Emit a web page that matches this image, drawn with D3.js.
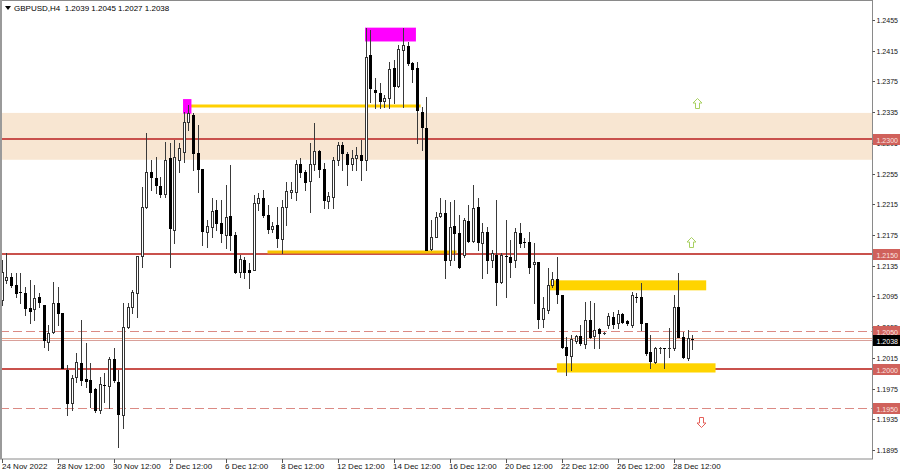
<!DOCTYPE html>
<html><head><meta charset="utf-8">
<script src="https://cdn.jsdelivr.net/npm/d3@7"></script>
<style>
html,body{margin:0;padding:0;background:#fff;}
svg{display:block;font-family:"Liberation Sans",Arial,sans-serif;}
</style></head>
<body><svg id="chart" width="900" height="474"></svg>
<script>
// ---- data (GBPUSD H4) ----
const symbolTitle = "GBPUSD,H4";
const lastQuote = ["1.2039", "1.2045", "1.2027", "1.2038"];
const firstBarTime = "2022-11-24 12:00";
const opens = [
1.2090,1.2116,1.2120,1.2110,1.2101,1.2100,1.2080,1.2079,1.2094,1.2084,
1.2036,1.2049,1.2087,1.2074,1.1999,1.1956,1.1990,1.2008,1.1988,1.1986,
1.1975,1.1947,1.1980,1.1978,1.2014,1.1984,1.1941,1.2055,1.2081,1.2100,
1.2148,1.2212,1.2257,1.2249,1.2239,1.2228,1.2275,1.2182,1.2273,1.2283,
1.2322,1.2331,1.2282,1.2261,1.2179,1.2185,1.2208,1.2191,1.2175,1.2200,
1.2175,1.2127,1.2142,1.2130,1.2130,1.2217,1.2223,1.2201,1.2183,1.2188,
1.2170,1.2212,1.2231,1.2231,1.2268,1.2257,1.2245,1.2268,1.2284,1.2261,
1.2219,1.2225,1.2273,1.2292,1.2281,1.2268,1.2275,1.2279,1.2273,1.2409,
1.2364,1.2360,1.2349,1.2353,1.2392,1.2369,1.2416,1.2421,1.2399,1.2392,
1.2335,1.2314,1.2157,1.2172,1.2200,1.2204,1.2142,1.2187,1.2178,1.2149,
1.2193,1.2167,1.2212,1.2165,1.2179,1.2142,1.2149,1.2114,1.2148,1.2146,
1.2142,1.2178,1.2166,1.2166,1.2137,1.2140,1.2066,1.2077,1.2110,1.2118,
1.2097,1.2029,1.2018,1.2037,1.2044,1.2033,1.2064,1.2044,1.2053,1.2047,
1.2058,1.2068,1.2061,1.2072,1.2063,1.2058,1.2094,1.2094,1.2061,1.2023,
1.2010,1.2027,1.2028,1.2027,1.2028,1.2081,1.2042,1.2015,1.2039];
const highs = [
1.2142,1.2152,1.2126,1.2126,1.2126,1.2107,1.2116,1.2110,1.2100,1.2084,
1.2058,1.2114,1.2107,1.2074,1.2006,1.1993,1.2021,1.2064,1.2034,1.2008,
1.1976,1.1990,1.1995,1.2016,1.2028,1.1999,1.2087,1.2087,1.2103,1.2148,
1.2238,1.2308,1.2273,1.2277,1.2251,1.2296,1.2295,1.2299,1.2295,1.2335,
1.2344,1.2334,1.2318,1.2261,1.2195,1.2223,1.2221,1.2221,1.2240,1.2266,
1.2179,1.2149,1.2146,1.2139,1.2227,1.2230,1.2234,1.2214,1.2192,1.2212,
1.2221,1.2244,1.2244,1.2273,1.2275,1.2260,1.2295,1.2321,1.2286,1.2269,
1.2231,1.2277,1.2296,1.2296,1.2283,1.2286,1.2290,1.2299,1.2445,1.2442,
1.2379,1.2373,1.2357,1.2400,1.2403,1.2422,1.2445,1.2426,1.2400,1.2400,
1.2342,1.2355,1.2195,1.2205,1.2223,1.2221,1.2218,1.2221,1.2201,1.2197,
1.2214,1.2240,1.2223,1.2191,1.2185,1.2156,1.2221,1.2152,1.2195,1.2169,
1.2184,1.2191,1.2171,1.2179,1.2165,1.2140,1.2094,1.2132,1.2127,1.2146,
1.2097,1.2042,1.2045,1.2045,1.2058,1.2088,1.2089,1.2087,1.2054,1.2049,
1.2074,1.2075,1.2077,1.2074,1.2064,1.2101,1.2100,1.2113,1.2061,1.2045,
1.2029,1.2029,1.2028,1.2054,1.2097,1.2126,1.2049,1.2051,1.2045];
const lows = [
1.2084,1.2113,1.2107,1.2094,1.2087,1.2071,1.2061,1.2064,1.2081,1.2029,
1.2025,1.2047,1.2058,1.2002,1.1941,1.1947,1.1984,1.1980,1.1977,1.1951,
1.1945,1.1943,1.1958,1.1950,1.1983,1.1899,1.1924,1.2054,1.2074,1.2068,
1.2133,1.2210,1.2234,1.2230,1.2225,1.2225,1.2133,1.2165,1.2257,1.2270,
1.2312,1.2260,1.2231,1.2162,1.2159,1.2172,1.2182,1.2166,1.2158,1.2156,
1.2126,1.2120,1.2119,1.2106,1.2130,1.2208,1.2199,1.2178,1.2179,1.2159,
1.2152,1.2188,1.2223,1.2221,1.2251,1.2234,1.2205,1.2260,1.2251,1.2210,
1.2210,1.2210,1.2266,1.2260,1.2240,1.2260,1.2260,1.2247,1.2260,1.2348,
1.2340,1.2340,1.2342,1.2340,1.2347,1.2368,1.2342,1.2396,1.2374,1.2295,
1.2286,1.2156,1.2156,1.2172,1.2199,1.2119,1.2136,1.2142,1.2132,1.2146,
1.2166,1.2166,1.2156,1.2119,1.2126,1.2133,1.2084,1.2113,1.2094,1.2120,
1.2133,1.2159,1.2159,1.2126,1.2087,1.2054,1.2055,1.2074,1.2107,1.2087,
1.2028,1.1993,1.1999,1.2034,1.2032,1.2028,1.2041,1.2028,1.2028,1.2046,
1.2054,1.2054,1.2054,1.2061,1.2058,1.2055,1.2088,1.2051,1.2019,1.2002,
1.2008,1.2021,1.2002,1.2016,1.2025,1.2042,1.2015,1.2012,1.2027];
const closes = [
1.2127,1.2120,1.2110,1.2100,1.2100,1.2080,1.2076,1.2093,1.2088,1.2038,
1.2047,1.2087,1.2074,1.2002,1.1956,1.1989,1.2010,1.1986,1.1985,1.1971,
1.1947,1.1981,1.1979,1.2014,1.1986,1.1942,1.2055,1.2081,1.2101,1.2148,
1.2212,1.2257,1.2251,1.2240,1.2228,1.2273,1.2184,1.2277,1.2288,1.2322,
1.2334,1.2282,1.2261,1.2180,1.2187,1.2206,1.2191,1.2178,1.2199,1.2175,
1.2127,1.2144,1.2127,1.2127,1.2217,1.2223,1.2201,1.2183,1.2187,1.2171,
1.2212,1.2232,1.2234,1.2268,1.2257,1.2244,1.2268,1.2284,1.2261,1.2221,
1.2226,1.2273,1.2292,1.2282,1.2268,1.2275,1.2279,1.2273,1.2407,1.2366,
1.2361,1.2349,1.2353,1.2391,1.2369,1.2417,1.2422,1.2399,1.2391,1.2338,
1.2316,1.2156,1.2172,1.2199,1.2204,1.2142,1.2185,1.2178,1.2133,1.2195,
1.2167,1.2210,1.2166,1.2179,1.2142,1.2152,1.2114,1.2149,1.2146,1.2140,
1.2179,1.2165,1.2165,1.2133,1.2140,1.2066,1.2080,1.2110,1.2118,1.2098,
1.2029,1.2019,1.2040,1.2044,1.2034,1.2064,1.2042,1.2051,1.2047,1.2047,
1.2070,1.2059,1.2072,1.2062,1.2061,1.2097,1.2093,1.2061,1.2021,1.2011,
1.2028,1.2028,1.2027,1.2028,1.2081,1.2042,1.2016,1.2041,1.2038];

const xTickLabels = ["24 Nov 2022","28 Nov 12:00","30 Nov 12:00","2 Dec 12:00","6 Dec 12:00","8 Dec 12:00",
  "12 Dec 12:00","14 Dec 12:00","16 Dec 12:00","20 Dec 12:00","22 Dec 12:00","26 Dec 12:00","28 Dec 12:00"];
const xTickTimes = ["2022-11-24 12:00","2022-11-28 12:00","2022-11-30 12:00","2022-12-02 12:00","2022-12-06 12:00",
  "2022-12-08 12:00","2022-12-12 12:00","2022-12-14 12:00","2022-12-16 12:00","2022-12-20 12:00",
  "2022-12-22 12:00","2022-12-26 12:00","2022-12-28 12:00"];
const yTickValues = [1.2455,1.2415,1.2375,1.2335,1.2295,1.2255,1.2215,1.2175,1.2135,1.2095,1.2055,1.2015,1.1975,1.1935,1.1895];

const solidLevels = [1.2300, 1.2150, 1.2000];
const dashedLevels = [1.2050, 1.1950];
const zoneBand = [1.2273, 1.2334];
const levelBoxes = ["1.2300","1.2150","1.2050","1.2000","1.1950"];
const priceLines = [1.2041, 1.2038];
const currentPrice = "1.2038";
// annotation objects: [startBar, endBar, low, high]
const magentaBoxes = [[38.9, 40.7, 1.2333, 1.2352],[77.9, 88.8, 1.2427, 1.2445]];
const yellowBoxes  = [[117.5, 151.0, 1.2103, 1.2116],[119.0, 153.0, 1.1996, 1.2008]];
const yellowLines  = [[40.6, 89.8, 1.2343, "#ffd000"],[57.0, 97.5, 1.2153, "#f7c300"]];
// arrows: [bar, price, direction]
const arrows = [[149.0, 1.2347, "up"],[147.7, 1.2166, "up"],[149.9, 1.1932, "down"]];

// ---- time categories: 4-hour bars, weekdays only ----
function fmtKey(d){ return d3.utcFormat("%Y-%m-%d %H:%M")(d); }
const times = [];
{ let t = d3.utcParse("%Y-%m-%d %H:%M")(firstBarTime);
  while (times.length < opens.length){
    const wd = t.getUTCDay();
    if (wd !== 0 && wd !== 6) times.push(fmtKey(t));
    t = new Date(t.getTime() + 4*3600*1000);
  } }

// ---- layout ----
const W = 900, H = 474;
const plotR = 872, plotB = 458;
const svg = d3.select("#chart");
const x = d3.scaleLinear().domain([0, times.length - 1]).range([1.5, 692.2]);
const y = d3.scaleLinear().domain([1.18847, 1.2481]).range([plotB, 0]);
const px = v => Math.round(x(v));
const py = v => Math.round(y(v));

svg.append("rect").attr("width", W).attr("height", H).attr("fill", "#fff");

const plot = svg.append("g");
// zone
plot.append("rect").attr("x", 0).attr("width", plotR)
  .attr("y", y(zoneBand[1])).attr("height", y(zoneBand[0]) - y(zoneBand[1]))
  .attr("fill", "#f8e6d2");
// levels
plot.selectAll(".sl").data(solidLevels).join("line")
  .attr("x1", 0).attr("x2", plotR).attr("y1", d => py(d)).attr("y2", d => py(d))
  .attr("stroke", "#c9514c").attr("stroke-width", 2);
plot.selectAll(".dl").data(dashedLevels).join("line")
  .attr("x1", 0).attr("x2", plotR).attr("y1", d => py(d) + 0.5).attr("y2", d => py(d) + 0.5)
  .attr("stroke", "#db8a84").attr("stroke-width", 1).attr("stroke-dasharray", "9,4");
plot.selectAll(".pl").data(priceLines).join("line")
  .attr("x1", 0).attr("x2", plotR).attr("y1", d => py(d) + 0.5).attr("y2", d => py(d) + 0.5)
  .attr("stroke", (d, i) => i === 0 ? "#e8a58c" : "#d9a09a").attr("stroke-width", 1);

// yellow boxes / lines, magenta boxes
plot.selectAll(".yb").data(yellowBoxes).join("rect")
  .attr("x", d => x(d[0])).attr("width", d => x(d[1]) - x(d[0]))
  .attr("y", d => y(d[3])).attr("height", d => y(d[2]) - y(d[3]))
  .attr("fill", "#ffd400");
plot.selectAll(".yl").data(yellowLines).join("line")
  .attr("x1", d => x(d[0])).attr("x2", d => x(d[1]))
  .attr("y1", d => y(d[2])).attr("y2", d => y(d[2]))
  .attr("stroke", d => d[3]).attr("stroke-width", 3);
plot.selectAll(".mb").data(magentaBoxes).join("rect")
  .attr("x", d => x(d[0])).attr("width", d => x(d[1]) - x(d[0]))
  .attr("y", d => y(d[3])).attr("height", d => y(d[2]) - y(d[3]))
  .attr("fill", "#ff00ff");

// candles
const idx = d3.range(opens.length);
const cg = plot.append("g").selectAll("g").data(idx).join("g");
cg.append("line")
  .attr("x1", i => px(i) + 0.5).attr("x2", i => px(i) + 0.5)
  .attr("y1", i => py(highs[i])).attr("y2", i => py(lows[i]) + 1)
  .attr("stroke", "#3a3a3a").attr("stroke-width", 1);
cg.each(function(i){
  const g = d3.select(this);
  const o = opens[i], c = closes[i];
  const top = py(Math.max(o, c)), bot = py(Math.min(o, c));
  const cx = px(i);
  if (bot - top < 2) {
    g.append("line").attr("x1", cx - 1).attr("x2", cx + 2)
      .attr("y1", top + 0.5).attr("y2", top + 0.5)
      .attr("stroke", c >= o ? "#3a3a3a" : "#000").attr("stroke-width", 1);
  } else if (c >= o) {
    g.append("rect").attr("x", cx - 0.5).attr("y", top + 0.5)
      .attr("width", 2).attr("height", bot - top)
      .attr("fill", "#fff").attr("stroke", "#333").attr("stroke-width", 1);
  } else {
    g.append("rect").attr("x", cx - 1).attr("y", top)
      .attr("width", 3).attr("height", bot - top + 1)
      .attr("fill", "#000");
  }
});

// arrows
plot.selectAll(".ar").data(arrows).join("path")
  .attr("transform", d => `translate(${px(d[0]) + 0.5},${py(d[1]) + 0.5})` + (d[2] === "down" ? " rotate(180)" : ""))
  .attr("d", "M0,-5 L4.5,-0.5 L2,-0.5 L2,5 L-2,5 L-2,-0.5 L-4.5,-0.5 Z")
  .attr("fill", "none")
  .attr("stroke", d => d[2] === "down" ? "#e5605a" : "#a8d060").attr("stroke-width", 1);

// border
svg.append("rect").attr("x", 0.5).attr("y", 0.5).attr("width", plotR).attr("height", plotB + 0.5)
  .attr("fill", "none").attr("stroke", "#8a8a8a").attr("stroke-width", 1);
svg.append("line").attr("x1", 1).attr("x2", 1).attr("y1", 0).attr("y2", plotB + 1)
  .attr("stroke", "#9a9a9a").attr("stroke-width", 2);

// y axis
const yAxis = svg.append("g").attr("class", "yaxis");
yAxis.selectAll("line").data(yTickValues).join("line")
  .attr("x1", plotR + 0.5).attr("x2", plotR + 3).attr("y1", d => py(d) + 0.5).attr("y2", d => py(d) + 0.5)
  .attr("stroke", "#555");
yAxis.selectAll("text").data(yTickValues).join("text")
  .attr("x", plotR + 4.5).attr("y", d => y(d) + 3).attr("font-size", 8).attr("fill", "#111")
  .attr("textLength", 21.5).attr("lengthAdjust", "spacingAndGlyphs")
  .text(d => d3.format(".4f")(d));
// level boxes
const boxes = svg.append("g");
const boxData = levelBoxes.map(s => ({ s, fill: "#d0615b", col: "#fbe3e0" }))
  .concat([{ s: currentPrice, fill: "#000", col: "#fff" }]);
const bg = boxes.selectAll("g").data(boxData).join("g")
  .attr("transform", d => `translate(${plotR + 1},${py(+d.s) - 5})`);
bg.append("rect").attr("width", W - plotR - 1).attr("height", 11).attr("fill", d => d.fill);
bg.append("text").attr("x", 3.5).attr("y", 8.5).attr("font-size", 8).attr("fill", d => d.col)
  .attr("textLength", 21.5).attr("lengthAdjust", "spacingAndGlyphs").text(d => d.s);

// x axis
const xAxis = svg.append("g");
const tickIdx = xTickTimes.map(t => times.indexOf(t));
xAxis.selectAll("line").data(tickIdx).join("line")
  .attr("x1", i => px(i) + 0.5).attr("x2", i => px(i) + 0.5)
  .attr("y1", plotB + 1).attr("y2", plotB + 5).attr("stroke", "#555");
xAxis.selectAll("text").data(tickIdx).join("text")
  .attr("x", i => Math.max(2, px(i) - 1)).attr("y", plotB + 11).attr("font-size", 8).attr("fill", "#111")
  .text((i, k) => xTickLabels[k]);

// header
svg.append("path").attr("d", "M5,6 L11,6 L8,10 Z").attr("fill", "#000");
svg.append("text").attr("x", 14).attr("y", 11).attr("font-size", 8).attr("fill", "#000")
  .attr("xml:space", "preserve")
  .text(symbolTitle + "  " + lastQuote.join(" "));
</script></body></html>
